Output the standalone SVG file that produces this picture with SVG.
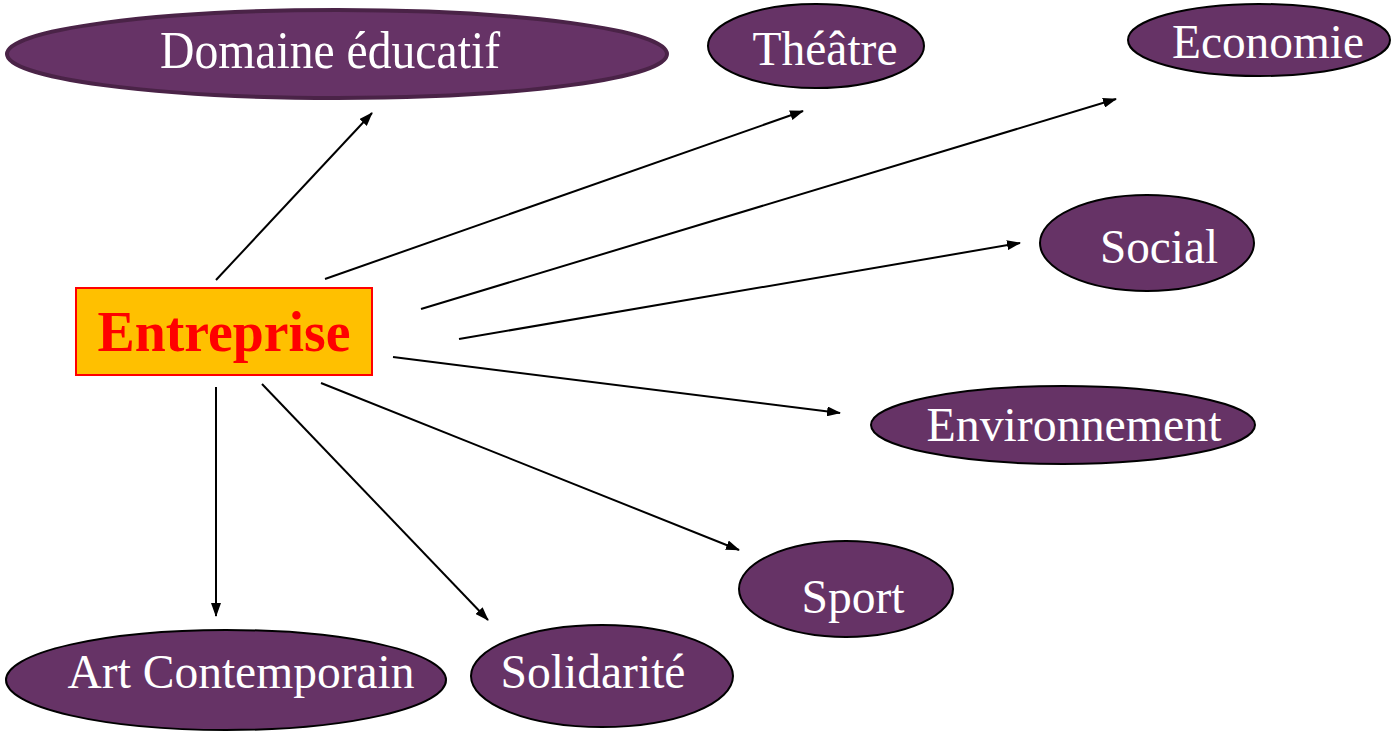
<svg xmlns="http://www.w3.org/2000/svg" width="1392" height="731" viewBox="0 0 1392 731">
<defs>
<marker id="ah" markerWidth="14" markerHeight="10" refX="13" refY="5" orient="auto" markerUnits="userSpaceOnUse">
<path d="M0,0 L14,5 L0,10 Z" fill="#000"/>
</marker>
<style>
.n{fill:#663366;stroke:#000;stroke-width:2}
.t{font-family:"Liberation Serif","Times New Roman",serif;fill:#fff;font-size:48px;text-anchor:middle}
.c{stroke:#000;stroke-width:2;fill:none;marker-end:url(#ah)}
</style>
</defs>
<rect width="1392" height="731" fill="#fff"/>
<g id="connectors">
<line class="c" x1="216" y1="280" x2="372" y2="113"/>
<line class="c" x1="325" y1="279" x2="803" y2="111"/>
<line class="c" x1="421" y1="309" x2="1116" y2="99"/>
<line class="c" x1="459" y1="339" x2="1020" y2="243"/>
<line class="c" x1="393" y1="357" x2="840" y2="413"/>
<line class="c" x1="321" y1="383" x2="739" y2="550"/>
<line class="c" x1="262" y1="384" x2="488" y2="620"/>
<line class="c" x1="216" y1="387" x2="216" y2="616"/>
</g>
<g id="entreprise">
<rect x="76" y="288" width="296" height="87" fill="#FFC000" stroke="#FF0000" stroke-width="2"/>
<text x="224" y="351" style="font-family:'Liberation Serif','Times New Roman',serif;font-weight:bold;font-size:56px" fill="#FF0000" text-anchor="middle" textLength="253" lengthAdjust="spacingAndGlyphs">Entreprise</text>
</g>
<g id="domaine">
<ellipse class="n" cx="337" cy="54" rx="330" ry="44" style="stroke:#4a2347;stroke-width:4"/>
<text class="t" x="330" y="68" style="font-size:53px" textLength="340" lengthAdjust="spacingAndGlyphs">Domaine éducatif</text>
</g>
<g id="theatre">
<ellipse class="n" cx="816" cy="46" rx="108" ry="42"/>
<text class="t" x="825" y="65" textLength="145" lengthAdjust="spacingAndGlyphs">Théâtre</text>
</g>
<g id="economie">
<ellipse class="n" cx="1259" cy="40" rx="131" ry="36"/>
<text class="t" x="1268" y="58" textLength="192" lengthAdjust="spacingAndGlyphs">Economie</text>
</g>
<g id="social">
<ellipse class="n" cx="1147" cy="243" rx="107" ry="48"/>
<text class="t" x="1159" y="263" textLength="118" lengthAdjust="spacingAndGlyphs">Social</text>
</g>
<g id="environnement">
<ellipse class="n" cx="1063" cy="425" rx="192" ry="39"/>
<text class="t" x="1074" y="441" textLength="295" lengthAdjust="spacingAndGlyphs">Environnement</text>
</g>
<g id="sport">
<ellipse class="n" cx="846" cy="589" rx="107" ry="48"/>
<text class="t" x="853" y="613" textLength="103" lengthAdjust="spacingAndGlyphs">Sport</text>
</g>
<g id="solidarite">
<ellipse class="n" cx="602" cy="676" rx="131" ry="51"/>
<text class="t" x="593" y="688" textLength="185" lengthAdjust="spacingAndGlyphs">Solidarité</text>
</g>
<g id="art">
<ellipse class="n" cx="226" cy="680" rx="220" ry="50"/>
<text class="t" x="241" y="688" textLength="347" lengthAdjust="spacingAndGlyphs">Art Contemporain</text>
</g>
</svg>
